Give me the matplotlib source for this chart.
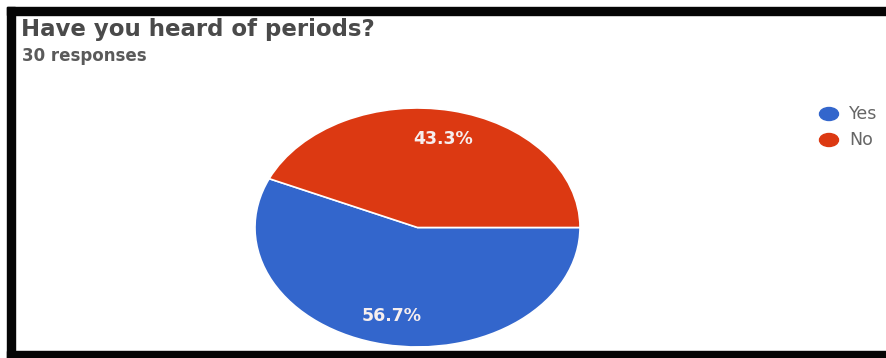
import matplotlib
matplotlib.use("Agg")
import matplotlib.pyplot as plt
from matplotlib.patches import Rectangle, Ellipse

W, H = 886, 358

question = "Have you heard of periods?"
n_responses = 30
answers = ["Yes", "No"]
shares = [56.7, 43.3]
colors = ["#3366CC", "#DC3912"]


def fx(px):
    return px / W


def fy(py):
    # pixel rows counted from the top
    return 1 - py / H


fig = plt.figure(figsize=(W / 100, H / 100), dpi=100)
fig.patch.set_facecolor("white")

# thick black frame (open on the right)
frame = "#050505"
fig.patches.append(Rectangle((fx(7), fy(15)), 1, 8 / H, transform=fig.transFigure,
                             color=frame, zorder=0))
fig.patches.append(Rectangle((fx(7), 0), 8 / W, fy(7), transform=fig.transFigure,
                             color=frame, zorder=0))
fig.patches.append(Rectangle((fx(7), 0), 1, 7 / H, transform=fig.transFigure,
                             color=frame, zorder=0))

fig.text(fx(21), fy(36), question, fontsize=16.5, fontweight="bold",
         color="#4a4a4a", family="DejaVu Sans", va="baseline")
fig.text(fx(22), fy(61), f"{n_responses} responses", fontsize=12,
         fontweight="bold", color="#5a5a5a", family="DejaVu Sans",
         va="baseline")

# elliptical pie: axes box equals the pie's bounding box
ax = fig.add_axes([fx(255), fy(347), 325 / W, 239 / H])
wedges, texts, autotexts = ax.pie(
    shares, colors=colors, startangle=0, counterclock=False,
    autopct="%.1f%%", pctdistance=0.76,
    wedgeprops=dict(edgecolor="white", linewidth=1.2),
    textprops=dict(color="#f6eeee", fontsize=12.5, fontweight="bold",
                   family="DejaVu Sans"))
ax.set_aspect("auto")
ax.set_xlim(-1, 1)
ax.set_ylim(-1, 1)
ax.axis("off")

# legend drawn by hand in figure space
for i, (lab, col) in enumerate(zip(answers, colors)):
    y = 114 + 26 * i
    fig.patches.append(Ellipse((fx(829), fy(y)), 19 / W, 13 / H,
                               transform=fig.transFigure, color=col))
    fig.text(fx(849), fy(y), lab, fontsize=12.5, color="#666666",
             family="DejaVu Sans", va="center")

fig.savefig("out.png", dpi=100)
